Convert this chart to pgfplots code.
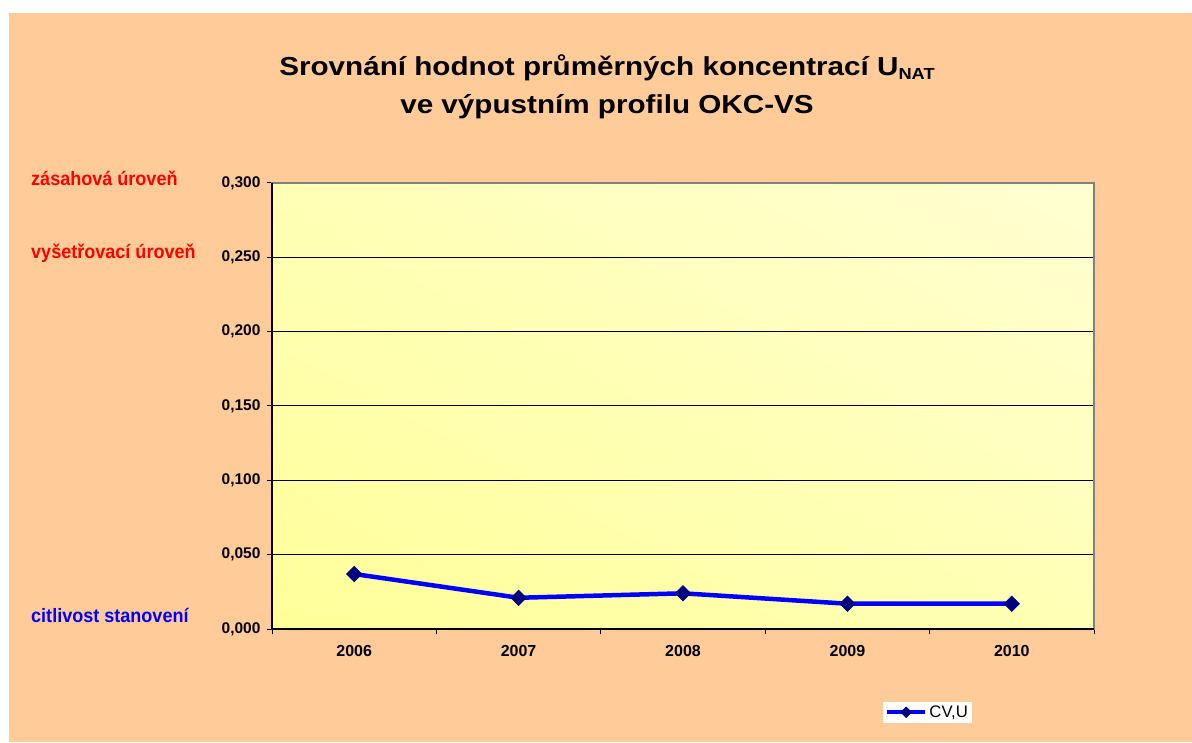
\documentclass[border=0pt]{standalone}
\usepackage{pgfplots}
\pgfplotsset{compat=1.18}
\usepackage{fontspec}
\setmainfont{Liberation Sans}
\newfontfamily\titlefont{Liberation Sans}[FakeStretch=1.14]
\newfontfamily\labelfont{Liberation Sans}[FakeStretch=0.93]
\usetikzlibrary{shadings}
\definecolor{bgorange}{HTML}{FFCC99}
\definecolor{ylow}{HTML}{FFFF99}
\definecolor{yhigh}{HTML}{FFFFD2}
\definecolor{ymid}{HTML}{FFFFB6}
\definecolor{navymark}{HTML}{000080}
\definecolor{bordergray}{HTML}{808080}
\begin{document}
\begin{tikzpicture}
\fill[white] (0pt,0pt) rectangle (1192pt,742pt);
\fill[bgorange] (9pt,0pt) rectangle (1192pt,729pt);
\node[anchor=base, inner sep=0pt, font=\titlefont\bfseries\fontsize{26}{30}\selectfont] at (607pt,666pt) {Srovnání hodnot průměrných koncentrací U\raisebox{-3.5pt}{\fontsize{16}{16}\selectfont NAT}};
\node[anchor=base, inner sep=0pt, font=\titlefont\bfseries\fontsize{26}{30}\selectfont] at (607pt,628pt) {ve výpustním profilu OKC-VS};
\node[anchor=base west, inner sep=0pt, text=red, font=\labelfont\bfseries\fontsize{19.4}{21}\selectfont] at (31pt,556pt) {zásahová úroveň};
\node[anchor=base west, inner sep=0pt, text=red, font=\labelfont\bfseries\fontsize{19.4}{21}\selectfont] at (31pt,483pt) {vyšetřovací úroveň};
\node[anchor=base west, inner sep=0pt, text=blue, font=\labelfont\bfseries\fontsize{19.4}{21}\selectfont] at (31pt,119pt) {citlivost stanovení};
\begin{axis}[
  at={(272pt,113pt)}, anchor=south west,
  width=822pt, height=446pt, scale only axis,
  xmin=-0.5, xmax=4.5, ymin=0, ymax=0.3,
  xtick={-0.5,0.5,1.5,2.5,3.5,4.5},
  x tick label as interval,
  xticklabels={2006,2007,2008,2009,2010},
  ytick={0,0.05,0.1,0.15,0.2,0.25,0.3},
  /pgf/number format/assume math mode=true,
  yticklabel style={/pgf/number format/fixed, /pgf/number format/fixed zerofill, /pgf/number format/precision=3, /pgf/number format/use comma, font=\bfseries\fontsize{15.5}{16}\selectfont, xshift=-3pt},
  xticklabel style={font=\bfseries\fontsize{16}{17}\selectfont, yshift=-8pt},
  xtick pos=left, ytick pos=left,
  tick align=outside, major tick length=5pt,
  tick style={black, line width=1pt},
  ymajorgrids,
  major grid style={black, line width=1pt},
  axis line style={bordergray, line width=1.2pt},
  axis background/.style={shade, lower left=ylow, upper right=yhigh, upper left=ymid, lower right=ymid},
  legend style={at={(0.743,-0.2108)}, anchor=south west, fill=white, draw=none,
    inner xsep=2pt, inner ysep=2pt, font=\fontsize{16.7}{18}\selectfont,
    /tikz/every even column/.append style={column sep=0pt}},
  legend image code/.code={\draw[mark repeat=2,mark phase=2,#1,mark size=3.8pt] plot coordinates {(0pt,0pt) (19pt,0pt) (38pt,0pt)};},
  clip=false,
]
\addplot[blue, line width=4.5pt, mark=square*, mark size=5.5pt,
  mark options={solid, rotate=45, fill=navymark, draw=navymark, line width=0.5pt}]
  coordinates {(0,0.037) (1,0.021) (2,0.024) (3,0.017) (4,0.017)};
\addlegendentry{CV,U}
\draw[black, line width=1.2pt] (rel axis cs:0,1) -- (rel axis cs:0,0) -- (rel axis cs:1,0);
\end{axis}
\end{tikzpicture}
\end{document}
